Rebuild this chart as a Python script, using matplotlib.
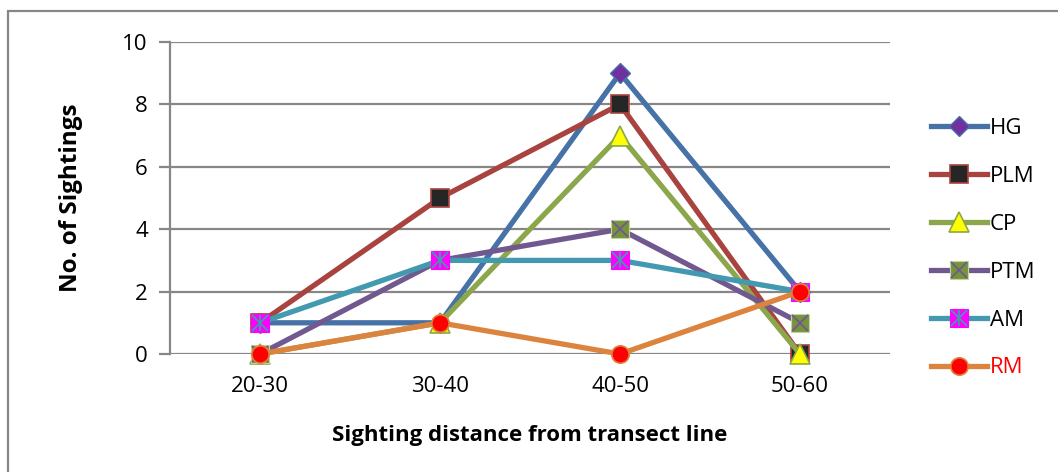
import matplotlib.pyplot as plt
import numpy as np
from matplotlib.legend_handler import HandlerTuple
from matplotlib.patches import Rectangle

# categories and series values
distances = ['20-30', '30-40', '40-50', '50-60']
hg = [1, 1, 9, 2]
plm = [1, 5, 8, 0]
cp = [0, 1, 7, 0]
ptm = [0, 3, 4, 1]
am = [1, 3, 3, 2]
rm = [0, 1, 0, 2]

plt.rcParams['font.family'] = ['Open Sans', 'DejaVu Sans']

fig = plt.figure(figsize=(10.58, 4.72), dpi=100)
ax = fig.add_axes([170 / 1058, 1 - 354 / 472, 720 / 1058, 312 / 472])

x = np.arange(len(distances))
lw = 3.8
ms = 12.5

h_hg, = ax.plot(x, hg, color='#4672A8', lw=lw, marker='D', ms=ms * 0.8,
                mfc='#7030A0', mec='#4672A8', mew=1, clip_on=False, zorder=3)
h_plm, = ax.plot(x, plm, color='#A8433F', lw=lw, marker='s', ms=ms,
                 mfc='#262626', mec='#A8433F', mew=1.2, clip_on=False, zorder=3)
h_cp, = ax.plot(x, cp, color='#8BA64B', lw=lw, marker='^', ms=ms * 1.1,
                mfc='#FFFF00', mec='#8BA64B', mew=1.2, clip_on=False, zorder=3)
h_ptm, = ax.plot(x, ptm, color='#71598F', lw=lw, marker='s', ms=ms,
                 mfc='#77933C', mec='#C3D69B', mew=0.8, clip_on=False, zorder=3)
h_ptm_x, = ax.plot(x, ptm, ls='none', marker='x', ms=ms * 0.95,
                   mec='#71598F', mew=1.3, clip_on=False, zorder=3)
h_am, = ax.plot(x, am, color='#4299B0', lw=lw, marker='s', ms=ms,
                mfc='#FF00FF', mec='#FF00FF', mew=0.8, clip_on=False, zorder=3)
h_am_x, = ax.plot(x, am, ls='none', marker='x', ms=ms * 0.95,
                  mec='#4299B0', mew=1.3, clip_on=False, zorder=3)
h_am_v, = ax.plot(x, am, ls='none', marker='|', ms=ms * 0.95,
                  mec='#4299B0', mew=1.3, clip_on=False, zorder=3)
h_rm, = ax.plot(x, rm, color='#DC843D', lw=lw, marker='o', ms=ms,
                mfc='#FF0000', mec='#DC843D', mew=1.2, clip_on=False, zorder=3)

ax.set_xlim(-0.5, 3.5)
ax.set_ylim(0, 10)
ax.set_yticks(np.arange(0, 11, 2))
ax.set_xticks(x)
ax.set_xticklabels(distances)
ax.grid(axis='y', color='#878787', lw=1.6)
ax.set_axisbelow(True)
for s in ['top', 'right', 'bottom']:
    ax.spines[s].set_visible(False)
ax.spines['left'].set_color('#878787')
ax.spines['left'].set_linewidth(1.6)
ax.tick_params(axis='y', length=8, width=1.6, color='#878787', labelsize=16, pad=8)
ax.tick_params(axis='x', length=0, labelsize=16, pad=16)

ax.set_ylabel('No. of Sightings', fontsize=17.5, fontweight='bold', labelpad=28)
ax.set_xlabel('Sighting distance from transect line', fontsize=16,
              fontweight='bold', labelpad=20)

handles = [h_hg, h_plm, h_cp, (h_ptm, h_ptm_x), (h_am, h_am_x, h_am_v), h_rm]
labels = ['HG', 'PLM', 'CP', 'PTM', 'AM', 'RM']
leg = fig.legend(handles, labels, loc='upper left',
                 bbox_to_anchor=(911 / 1058, 1 - 98 / 472),
                 frameon=False, fontsize=16, handlelength=2.5,
                 labelspacing=1.21, handletextpad=0.15,
                 handler_map={tuple: HandlerTuple(ndivide=1, pad=0)})
leg.get_texts()[5].set_color('red')

# outer chart border
fig.patches.append(Rectangle((8 / 1058, -0.1), 1.2, 1 - 11 / 472 + 0.1,
                             transform=fig.transFigure, fill=False,
                             ec='#878787', lw=1.6))

fig.savefig('out.png', dpi=100)
